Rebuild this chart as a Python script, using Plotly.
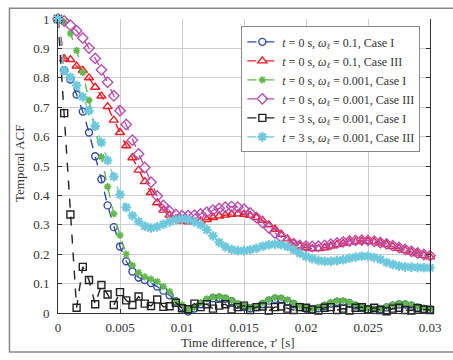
import numpy as np
import plotly.graph_objects as go

# Lag grid: 0 ... 0.03 s in steps of 0.5 ms
TAU_STEP = 0.0005
lag = np.round(np.arange(61) * TAU_STEP, 4)

acf_w01_case1 = [
    1.0, 0.826, 0.794, 0.743, 0.685, 0.614, 0.533, 0.455, 0.366, 0.292,
    0.226, 0.176, 0.141, 0.121, 0.112, 0.102, 0.090, 0.076, 0.060, 0.040,
    0.020, 0.005, 0.015, 0.030, 0.042, 0.050, 0.052, 0.048, 0.040, 0.028,
    0.020, 0.016, 0.020, 0.030, 0.042, 0.048, 0.047, 0.040, 0.030, 0.020,
    0.014, 0.012, 0.016, 0.024, 0.032, 0.038, 0.038, 0.033, 0.025, 0.017,
    0.012, 0.010, 0.013, 0.019, 0.025, 0.029, 0.029, 0.025, 0.019, 0.014,
    0.011,
]
acf_w01_case3 = [
    1.0, 0.865, 0.862, 0.840, 0.825, 0.800, 0.768, 0.738, 0.702, 0.656,
    0.614, 0.569, 0.528, 0.486, 0.447, 0.410, 0.375, 0.350, 0.333, 0.320,
    0.313, 0.310, 0.310, 0.313, 0.318, 0.325, 0.330, 0.333, 0.336, 0.337,
    0.336, 0.332, 0.325, 0.315, 0.300, 0.285, 0.268, 0.252, 0.238, 0.228,
    0.222, 0.219, 0.219, 0.222, 0.228, 0.233, 0.237, 0.241, 0.243, 0.244,
    0.244, 0.242, 0.238, 0.233, 0.226, 0.220, 0.213, 0.207, 0.201, 0.196,
    0.191,
]
acf_w0001_case1 = [
    1.0, 0.990, 0.951, 0.893, 0.818, 0.724, 0.632, 0.531, 0.430, 0.337,
    0.265, 0.200, 0.162, 0.137, 0.123, 0.115, 0.107, 0.090, 0.073, 0.041,
    0.028, 0.012, 0.020, 0.035, 0.048, 0.055, 0.056, 0.052, 0.043, 0.032,
    0.023, 0.019, 0.023, 0.034, 0.046, 0.053, 0.052, 0.045, 0.034, 0.024,
    0.017, 0.015, 0.019, 0.028, 0.036, 0.042, 0.042, 0.037, 0.028, 0.020,
    0.015, 0.013, 0.016, 0.022, 0.028, 0.032, 0.032, 0.028, 0.022, 0.017,
    0.014,
]
acf_w0001_case3 = [
    1.0, 0.993, 0.979, 0.960, 0.935, 0.901, 0.866, 0.827, 0.785, 0.739,
    0.688, 0.641, 0.588, 0.541, 0.495, 0.445, 0.398, 0.366, 0.346, 0.335,
    0.331, 0.331, 0.333, 0.337, 0.343, 0.350, 0.356, 0.360, 0.362, 0.360,
    0.353, 0.340, 0.325, 0.308, 0.290, 0.272, 0.258, 0.245, 0.236, 0.230,
    0.227, 0.226, 0.227, 0.230, 0.234, 0.238, 0.242, 0.245, 0.247, 0.248,
    0.247, 0.244, 0.240, 0.235, 0.229, 0.223, 0.216, 0.210, 0.204, 0.199,
    0.195,
]
acf_t3_case1 = [
    1.0, 0.680, 0.335, 0.018, 0.157, 0.112, 0.030, 0.095, 0.063, 0.027,
    0.071, 0.043, 0.027, 0.056, 0.032, 0.024, 0.046, 0.021, 0.023, 0.035,
    0.016, 0.013, 0.032, 0.020, 0.030, 0.015, 0.025, 0.030, 0.012, 0.020,
    0.025, 0.010, 0.020, 0.022, 0.008, 0.020, 0.022, 0.015, 0.010, 0.020,
    0.018, 0.012, 0.008, 0.018, 0.020, 0.010, 0.015, 0.008, 0.018, 0.020,
    0.012, 0.018, 0.010, 0.006, 0.015, 0.018, 0.010, 0.008, 0.016, 0.012,
    0.010,
]
acf_t3_case3 = [
    1.0, 0.824, 0.802, 0.774, 0.735, 0.688, 0.636, 0.580, 0.519, 0.464,
    0.403, 0.359, 0.331, 0.311, 0.295, 0.289, 0.293, 0.302, 0.310, 0.317,
    0.320, 0.317, 0.310, 0.300, 0.283, 0.262, 0.240, 0.225, 0.216, 0.212,
    0.212, 0.215, 0.220, 0.227, 0.232, 0.234, 0.232, 0.226, 0.215, 0.203,
    0.192, 0.185, 0.179, 0.176, 0.176, 0.178, 0.181, 0.186, 0.190, 0.193,
    0.193, 0.189, 0.182, 0.172, 0.165, 0.160, 0.157, 0.156, 0.155, 0.154,
    0.154,
]

series_names = [
    "<i>t</i> = 0 s, <i>ω</i><sub><i>ℓ</i></sub> = 0.1, Case I",
    "<i>t</i> = 0 s, <i>ω</i><sub><i>ℓ</i></sub> = 0.1, Case III",
    "<i>t</i> = 0 s, <i>ω</i><sub><i>ℓ</i></sub> = 0.001, Case I",
    "<i>t</i> = 0 s, <i>ω</i><sub><i>ℓ</i></sub> = 0.001, Case III",
    "<i>t</i> = 3 s, <i>ω</i><sub><i>ℓ</i></sub> = 0.001, Case I",
    "<i>t</i> = 3 s, <i>ω</i><sub><i>ℓ</i></sub> = 0.001, Case III",
]
series_values = [acf_w01_case1, acf_w01_case3, acf_w0001_case1,
                 acf_w0001_case3, acf_t3_case1, acf_t3_case3]

styles = [
    dict(color="#2d4ca8", symbol="circle-open", size=7, mlw=1.4),
    dict(color="#f01c26", symbol="triangle-up-open", size=8, mlw=1.4),
    dict(color="#62b84a", symbol="asterisk-open", size=6, mlw=1.6),
    dict(color="#b84fb0", symbol="diamond-open", size=8, mlw=1.4),
    dict(color="#222222", symbol="square-open", size=7, mlw=1.4),
    dict(color="#6ec8dc", symbol="asterisk-open", size=8, mlw=2.2),
]

FONT = "Liberation Serif"

fig = go.Figure()
for name, vals, st in zip(series_names, series_values, styles):
    fig.add_trace(go.Scatter(
        x=lag, y=vals, name=name, mode="lines+markers",
        line=dict(color=st["color"], width=1.4, dash="dash"),
        marker=dict(symbol=st["symbol"], size=st["size"], color=st["color"],
                    line=dict(color=st["color"], width=st["mlw"])),
        cliponaxis=False,
    ))

axis_common = dict(
    showgrid=True, gridcolor="#cccccc", gridwidth=1,
    showline=True, linecolor="#333333", linewidth=1,
    ticks="inside", ticklen=4, tickcolor="#333333",
    tickfont=dict(family=FONT, size=13, color="#333333"),
    zeroline=False,
)

fig.update_xaxes(
    range=[0, 0.03],
    tickvals=[0, 0.005, 0.01, 0.015, 0.02, 0.025, 0.03],
    ticktext=["0", "0.005", "0.01", "0.015", "0.02", "0.025", "0.03"],
    mirror=False, ticklabelstandoff=2, **axis_common,
)
fig.update_yaxes(
    range=[0, 1],
    tickvals=[0, 0.1, 0.2, 0.3, 0.4, 0.5, 0.6, 0.7, 0.8, 0.9, 1],
    ticktext=["0", "0.1", "0.2", "0.3", "0.4", "0.5", "0.6", "0.7", "0.8", "0.9", "1"],
    mirror="ticks", ticklabelstandoff=5, **axis_common,
)

fig.update_layout(
    width=453, height=360,
    margin=dict(l=58, r=12, t=12, b=47),
    paper_bgcolor="white", plot_bgcolor="white",
    font=dict(family=FONT, size=13, color="#333333"),
    legend=dict(
        x=0.974, y=0.975, xanchor="right", yanchor="top",
        bgcolor="white", bordercolor="#888888", borderwidth=1,
        font=dict(family=FONT, size=12, color="#333333"),
    ),
    annotations=[
        dict(text="Time difference, <i>τ</i>′ [s]", xref="paper", yref="paper",
             x=0.484, y=-0.10, xanchor="center", yanchor="middle",
             showarrow=False, font=dict(family=FONT, size=13, color="#333333")),
        dict(text="Temporal ACF", xref="paper", yref="paper",
             x=-0.104, y=0.508, xanchor="center", yanchor="middle", textangle=-90,
             showarrow=False, font=dict(family=FONT, size=13, color="#333333")),
    ],
    shapes=[
        dict(type="rect", xref="paper", yref="paper",
             x0=-0.1305, x1=1.2, y0=-0.1329, y1=1.0365,
             line=dict(color="#888888", width=1.5), layer="below"),
    ],
)

fig.write_html("out.html")
